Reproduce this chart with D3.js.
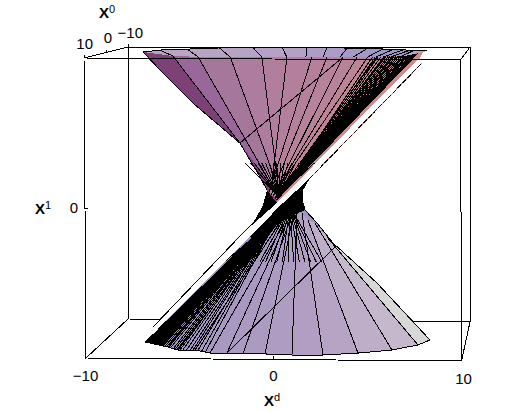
<!DOCTYPE html>
<html>
<head>
<meta charset="utf-8">
<script src="https://cdn.jsdelivr.net/npm/d3@7"></script>
<style>
  html, body { margin: 0; padding: 0; background: #fff; }
  svg { display: block; }
  text { font-family: "Liberation Sans", Arial, sans-serif; fill: #000; }
</style>
</head>
<body>
<svg id="chart" width="506" height="412"></svg>
<script>
// axis ticks
const dTicks = [-10, 0, 10];
const v1Ticks = [0];
const x0Ticks = [10, 0, -10];

// upper sheet: rim and left profile (X^d, X^1)
const frontRimD = [-6.91, -5.32, -3, 4, 7, 7.98];
const frontRimV = [10.4, 10.13, 10.05, 10.05, 10.13, 10.4];
const backRimD = [-6.91, -6.01, -2.84, 1.81, 5.84, 8.2];
const backRimV = [10.4, 10.53, 10.67, 10.73, 10.6, 10.47];
const upperEdgeD = [-6.91, -6.01, -4.26, -1.76, -0.69, -0.32];
const upperEdgeV = [10.4, 9.2, 7, 4.33, 2.07, 1.2];

// upper sheet rulings
const upperRimD = [-5.32, -3.99, -2.27, -0.59, 0.74, 2.07, 2.87, 3.72, 4.47, 5.05, 5.53, 5.96, 6.38, 6.65, 6.91, 7.18, 7.45, 7.71];
const upperNeckD = [-1.76, 0.08, 0.32, 0.3, -0.1, -0.2, -0.1, 0, 0, 0, 0.1, 0.1, 0.1, 0.1, 0.1, 0.2, 0.2, 0.2];
const upperNeckV = [4.33, 1.2, 1.2, 1.2, 1.2, 1.07, 0.87, 0.8, 0.8, 0.8, 0.7, 0.7, 0.7, 0.7, 0.6, 0.6, 0.55, 0.55];
const upperDenseD = [5.3, 5.45, 5.6, 5.75, 5.9, 6, 6.12, 6.22, 6.33, 6.44, 6.55, 6.66, 6.77, 6.88, 6.99, 7.1, 7.21, 7.32, 7.43, 7.54, 7.62];
const upperHatchD = [-1.5, -1.2, -1, -0.8, -0.6, -0.4, -0.2, 0, 0.2, 0.4, 0.6, 0.8, 1, 1.2, 1.4, 1.6, 1.8, 2, 2.2];

// strip of the far rim seen over the front rim
const stripBackD = [-6.01, -4.57, -2.84, -1.06, 0.48, 1.81, 2.87, 3.94, 5, 5.84, 6.38, 6.91, 7.28, 7.5];
const stripFrontD = [-5.32, -3.99, -2.27, -0.59, 0.74, 1.75, 2.66, 3.56, 4.26, 5.05, 5.53, 5.96, 6.33, 6.86];

// lower sheet: rim and right profile
const lowerRimD = [-6.81, -5.59, -5.05, -4.15, -3.35, -2.45, -1.6, -0.43, 1.01, 2.66, 4.52, 6.33, 7.71, 8.35];
const lowerRimV = [-8.93, -9.27, -9.47, -9.47, -9.67, -9.67, -9.73, -9.73, -9.8, -9.8, -9.67, -9.47, -9.13, -8.8];
const lowerEdgeD = [1.6, 1.7, 2.34, 3.19, 5.53, 8.35];
const lowerEdgeV = [0.33, -0.13, -1, -2.33, -5, -8.8];

// lower sheet rulings, one per lowerRimD entry from the second to the one before last
const lowerTopD = [0.53, 0.55, 0.58, 0.64, 0.74, 0.9, 1.06, 1.28, 1.54, 1.86, 2.23, 2.87];
const lowerTopV = [-0.1, -0.3, -0.6, -0.93, -0.93, -0.8, -0.6, -0.33, -0.33, -0.8, -1, -1.93];
const lowerDenseD = [-6.8, -6.75, -6.7, -6.65, -6.6, -6.55, -6.5, -6.45, -6.4, -6.35, -6.3, -6.25, -6.2, -6.15, -6.1, -6.05, -6, -5.95, -5.9, -5.85, -5.75, -5.65, -5.55, -5.45, -5.3, -5.2, -5.1, -4.95, -4.8, -4.6, -4.4, -4.25, -4, -3.8, -3.6];
const lowerHatchD = [-2.6, -2.2, -1.9, -1.6, -1.3, -1, -0.7, -0.4, -0.1, 0.2, 0.5, 0.8, 1.1, 1.4, 1.7, 2, 2.3, 2.6];

// slit through the surface
const slitUpperD = [7.82, 4.36, 0.21, -1.6, -6.38];
const slitUpperV = [10, 5.67, 0.33, -1.67, -7.93];
const slitLowerD = [7.93, 2.93, 0.48, -1.22, -6.38];
const slitLowerV = [9.67, 3.33, 0.27, -1.87, -8.4];

// black band left of the slit
const bandD = [-0.32, -0.53, -0.96, -1.86, -1.6, 0.21];
const bandV = [1.2, 0.2, -0.8, -2, -1.67, 0.33];

// black mass right of the slit, around the waist
const wingD = [1.97, 0.48, -1.22, -0.9, 0.27, 1.01, 1.7, 1.6, 1.6];
const wingV = [2, 0.27, -1.87, -2.33, -1.07, -0.53, -0.13, 0.33, 1.2];

// long mesh lines
const meshD = [[3.72, -1.76], [3.3, -2.45]];
const meshV = [[10.05, 4.33], [-2.6, -9.67]];

const svg = d3.select('#chart');

const dScale = d3.scaleLinear().domain([-10, 10]).range([85, 461]);
const vScale = d3.scaleLinear().domain([-10, 10]).range([358, 58]);
const dBack = d3.scaleLinear().domain([-10, 10]).range([128, 470]);
const vBack = d3.scaleLinear().domain([-10, 10]).range([319, 47]);

// the box is a slightly skewed perspective view
function project(d, v, o) {
    const t = (10 - o) / 20;
    const a = (d + 10) / 20;
    const b = (v + 10) / 20;
    const skewX = -(b - 0.5) * (2 - a) * (1 - t);
    const skewY = a * (3 - b * (1 + 2 * t));
    return [
        dScale(d) * (1 - t) + dBack(d) * t + skewX,
        vScale(v) * (1 - t) + vBack(v) * t + skewY
    ];
}

const pt = (d, v) => [dScale(d), vScale(v)];
const path = d3.line();
const zip = (ds, vs) => ds.map((d, i) => pt(d, vs[i]));

const frontRimAt = d3.scaleLinear().domain(frontRimD).range(frontRimV).clamp(true);
const backRimAt = d3.scaleLinear().domain(backRimD).range(backRimV).clamp(true);
const lowerRimAt = d3.scaleLinear().domain(lowerRimD).range(lowerRimV).clamp(true);

const upperFill = d3.scaleLinear()
    .domain([-7, -5, -3, -1, 4, 8])
    .range(['#7d4178', '#96649a', '#a5789b', '#af7d9f', '#b9829b', '#cd8c8c']);
const stripFill = d3.scaleLinear()
    .domain([-7, 0, 8])
    .range(['#bba5c4', '#b5a2c6', '#9892cc']);
const lowerFill = d3.scaleLinear()
    .domain([-7, -2, 3, 7])
    .range(['#a095c3', '#ab99c2', '#b49fc3', '#c6b8cc']);

function box(a, b) {
    return svg.append('path')
        .attr('d', path([project(...a), project(...b)]))
        .attr('fill', 'none')
        .attr('stroke', '#000')
        .attr('shape-rendering', 'crispEdges');
}

// back of the box
box([-10, 10, -10], [10, 10, -10]);
box([-10, -10, -10], [10, -10, -10]);
box([-10, -10, -10], [-10, 10, -10]);
box([10, -10, -10], [10, 10, -10]);
box([-10, -10, 10], [-10, -10, -10]);
box([10, -10, 10], [10, -10, -10]);
box([-10, 10, 10], [-10, 10, -10]);
box([10, 10, 10], [10, 10, -10]);

const surf = svg.append('g').attr('shape-rendering', 'crispEdges');

function poly(points, fill) {
    surf.append('path').attr('d', path(points) + 'Z').attr('fill', fill);
}
function rule(a, b) {
    surf.append('path').attr('d', path([a, b]))
        .attr('fill', 'none').attr('stroke', '#000');
}
function curve(points) {
    surf.append('path').attr('d', path(points))
        .attr('fill', 'none').attr('stroke', '#000');
}

// far rim strip
poly(zip(backRimD, backRimV).concat(zip(frontRimD, frontRimV).reverse()), stripFill(0));
stripBackD.forEach((d, i) => {
    if (i === stripBackD.length - 1) return;
    const n = stripBackD[i + 1];
    poly([
        pt(d, backRimAt(d)), pt(n, backRimAt(n)),
        pt(stripFrontD[i + 1], frontRimAt(stripFrontD[i + 1])), pt(stripFrontD[i], frontRimAt(stripFrontD[i]))
    ], stripFill(d));
});
stripBackD.forEach((d, i) => rule(pt(d, backRimAt(d)), pt(stripFrontD[i], frontRimAt(stripFrontD[i]))));
curve(zip(backRimD, backRimV));

// upper sheet
const upperOutline = zip(frontRimD, frontRimV)
    .concat(zip(slitUpperD.slice(0, 3), slitUpperV.slice(0, 3)))
    .concat(zip(upperEdgeD, upperEdgeV).reverse());
poly(upperOutline, upperFill(-7));
// last facet runs out to the slit
const lastUpper = upperRimD.length - 1;
poly([
    pt(upperRimD[lastUpper], frontRimAt(upperRimD[lastUpper])),
    pt(frontRimD[5], frontRimV[5]),
    pt(slitUpperD[0], slitUpperV[0]),
    pt(slitUpperD[1], slitUpperV[1]),
    pt(slitUpperD[2], slitUpperV[2]),
    pt(upperNeckD[lastUpper], upperNeckV[lastUpper])
], upperFill(8));
upperRimD.forEach((d, i) => {
    if (i === lastUpper) return;
    const n = upperRimD[i + 1];
    poly([
        pt(d, frontRimAt(d)), pt(n, frontRimAt(n)),
        pt(upperNeckD[i + 1], upperNeckV[i + 1]), pt(upperNeckD[i], upperNeckV[i])
    ], upperFill((d + n) / 2));
});
upperRimD.forEach((d, i) => rule(pt(d, frontRimAt(d)), pt(upperNeckD[i], upperNeckV[i])));
upperDenseD.forEach(d => rule(pt(d, frontRimAt(d)), pt(0.2, 0.55)));
upperHatchD.forEach(d => rule(pt(d, 3), pt(0.3, 0.8)));
curve(zip(upperEdgeD, upperEdgeV));

// lower sheet
const lowerOutline = [pt(slitLowerD[2], slitLowerV[2])]
    .concat(zip(lowerEdgeD, lowerEdgeV))
    .concat(zip(lowerRimD, lowerRimV).reverse());
poly(lowerOutline, lowerFill(-7));
lowerRimD.slice(1, -2).forEach((d, i) => {
    const n = lowerRimD[i + 2];
    poly([
        pt(d, lowerRimAt(d)), pt(n, lowerRimAt(n)),
        pt(lowerTopD[i + 1], lowerTopV[i + 1]), pt(lowerTopD[i], lowerTopV[i])
    ], lowerFill((d + n) / 2));
});
// right facets, the outermost one is nearly grey
const lastTop = lowerTopD.length - 1;
poly([
    pt(lowerTopD[lastTop], lowerTopV[lastTop]),
    pt(lowerRimD[12], lowerRimV[12]),
    pt(lowerRimD[13], lowerRimV[13]),
    pt(lowerEdgeD[4], lowerEdgeV[4]),
    pt(lowerEdgeD[3], lowerEdgeV[3])
], '#d8d8d6');
lowerRimD.slice(1, -1).forEach((d, i) => rule(pt(d, lowerRimAt(d)), pt(lowerTopD[i], lowerTopV[i])));
lowerDenseD.forEach(d => rule(pt(d, lowerRimAt(d)), pt(0.53, 0)));
lowerHatchD.forEach(d => rule(pt(d, -3.6), pt(0.9, 0.1)));
curve(zip(lowerRimD, lowerRimV));
curve(zip(lowerEdgeD, lowerEdgeV));

// long mesh lines
meshD.forEach((ds, i) => rule(pt(ds[0], meshV[i][0]), pt(ds[1], meshV[i][1])));

// slit and the black pieces beside it
poly(zip(wingD, wingV), '#000');
poly(zip(slitUpperD, slitUpperV).concat(zip(slitLowerD, slitLowerV).reverse()), '#fff');
poly(zip(bandD, bandV), '#000');
rule(pt(slitUpperD[3], slitUpperV[3]), pt(slitUpperD[4], slitUpperV[4]));
rule(pt(slitLowerD[0], slitLowerV[0]), pt(wingD[0], wingV[0]));
surf.append('path').attr('d', path([pt(slitLowerD[0], slitLowerV[0]), pt(wingD[0], wingV[0])]))
    .attr('fill', 'none').attr('stroke', '#d88a80').attr('stroke-dasharray', '2 5');

// front of the box
box([-10, 10, 10], [10, 10, 10]);
box([-10, -10, 10], [10, -10, 10]);
box([-10, -10, 10], [-10, 10, 10]);
box([10, -10, 10], [10, 10, 10]);

// axes
const xAxisG = svg.append('g')
    .attr('transform', 'translate(0,359)')
    .call(d3.axisBottom(dScale).tickValues(dTicks).tickSize(-3).tickPadding(11));
const yAxisG = svg.append('g')
    .attr('transform', 'translate(85,0)')
    .call(d3.axisLeft(vScale).tickValues(v1Ticks).tickSize(-3).tickPadding(7));
[xAxisG, yAxisG].forEach(g => {
    g.select('.domain').remove();
    g.attr('font-family', null).attr('font-size', null);
    g.selectAll('text').style('font-size', '15px');
    g.selectAll('line').attr('stroke', '#000').attr('shape-rendering', 'crispEdges');
});
xAxisG.selectAll('text').filter(d => d === 10).attr('dy', '0.95em').attr('dx', 2);

// depth ticks on the top left edge
const x0Offset = { '10': [9, -9], '0': [6, -10], '-10': [15, -9] };
x0Ticks.forEach(o => {
    const p = project(-10, 10, o);
    svg.append('path').attr('d', path([p, [p[0], p[1] - 3]]))
        .attr('stroke', '#000').attr('shape-rendering', 'crispEdges');
    svg.append('text')
        .attr('x', p[0] + x0Offset[o][0])
        .attr('y', p[1] + x0Offset[o][1])
        .attr('text-anchor', 'end')
        .style('font-size', '15px')
        .text(d3.format('')(o));
});

// axis titles
function title(x, y, sup) {
    const t = svg.append('text').attr('x', x).attr('y', y);
    t.append('tspan').style('font-size', '15px').style('font-weight', 'bold').text('X');
    t.append('tspan').attr('dy', -5).style('font-size', '11px').text(sup);
}
title(99, 18, '0');
title(35, 214, '1');
title(264, 406, 'd');
</script>
</body>
</html>
